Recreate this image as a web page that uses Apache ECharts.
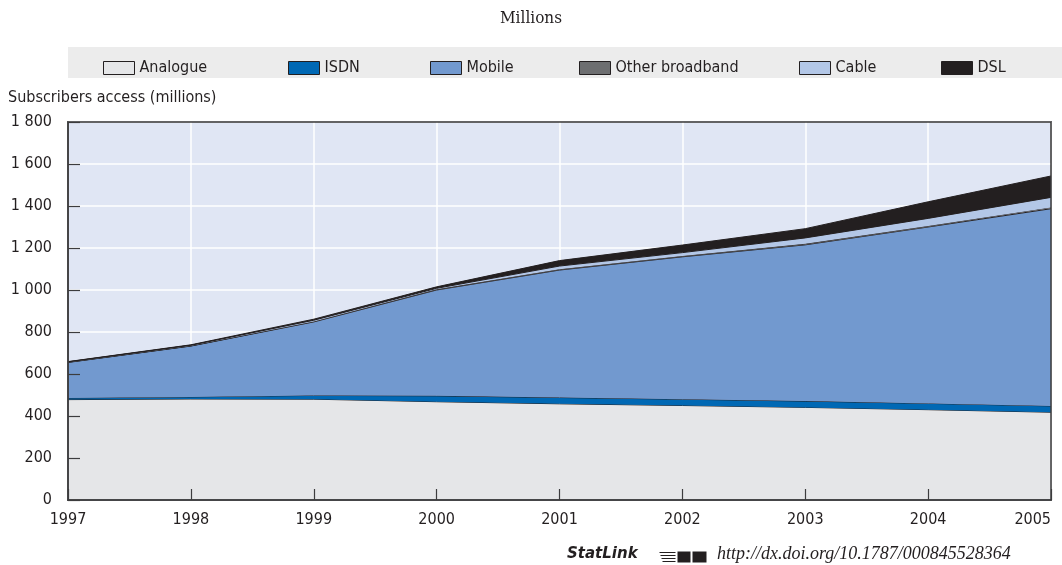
<!DOCTYPE html>
<html>
<head>
<meta charset="utf-8">
<script src="https://cdn.jsdelivr.net/npm/echarts@6/dist/echarts.min.js"></script>
<style>
    html, body { margin: 0; padding: 0; background: #ffffff; }
    #chart { width: 1062px; height: 565px; }
</style>
</head>
<body>
<div id="chart"></div>
<script>
// data (millions of subscribers)
var years = ['1997', '1998', '1999', '2000', '2001', '2002', '2003', '2004', '2005'];
var analogue = [478, 481, 480, 468, 458, 450, 441, 430, 418];
var isdn = [8, 10, 18, 28, 30, 30, 30, 30, 30];
var mobile = [169, 242, 350, 504, 607, 678, 744, 840, 939];
var otherBroadband = [1, 1, 2, 3, 4, 4, 5, 5, 6];
var cable = [2, 3, 6, 5, 15, 16, 28, 36, 48];
var dsl = [1, 2, 5, 7, 26, 36, 44, 79, 102];

var names = ['Analogue', 'ISDN', 'Mobile', 'Other broadband', 'Cable', 'DSL'];
var colors = ['#e5e6e8', '#0068b4', '#7299cf', '#6d6e70', '#b3c7e7', '#231f20'];
var legendLeft = [98, 283, 425, 574, 794, 936];

var FONT = '"Liberation Sans Narrow", "DejaVu Sans Condensed", "Roboto", sans-serif';
var INK = '#231f20';
var AXIS = '#3c3c3e';

var chart = echarts.init(document.getElementById('chart'));

function makeSeries(name, data, i) {
    return {
        name: name,
        type: 'line',
        stack: 'total',
        data: data,
        xAxisIndex: 0,
        yAxisIndex: 0,
        showSymbol: false,
        symbol: 'none',
        lineStyle: { color: INK, width: 1 },
        itemStyle: { color: colors[i] },
        areaStyle: { color: colors[i], opacity: 1 },
        emphasis: { disabled: true },
        z: 3 + i
    };
}

var legends = names.map(function (n, i) {
    return {
        data: [n],
        left: legendLeft[i],
        top: 55,
        icon: 'rect',
        itemWidth: 31,
        itemHeight: 13,
        itemStyle: { borderColor: INK, borderWidth: 1 },
        textStyle: { fontFamily: FONT, fontSize: 16, color: INK },
        selectedMode: false
    };
});

function yLabel(v) {
    return String(v).replace(/\B(?=(\d{3})+(?!\d))/g, ' ');
}

var option = {
    animation: false,
    backgroundColor: '#ffffff',
    title: {
        text: 'Millions',
        left: 'center',
        top: 5,
        textStyle: { fontFamily: '"DejaVu Serif Condensed", "Liberation Serif", serif', fontWeight: 'normal', fontSize: 17, color: INK }
    },
    legend: legends,
    grid: {
        left: 68,
        right: 11,
        top: 122,
        bottom: 65,
        outerBoundsMode: 'none',
        containLabel: false,
        show: true,
        backgroundColor: '#e0e6f4',
        borderColor: AXIS,
        borderWidth: 1.5,
        z: 0
    },
    graphic: [
        {
            type: 'rect',
            z: -10,
            shape: { x: 68, y: 47, width: 994, height: 31 },
            style: { fill: '#ececec' }
        },
        {
            type: 'text',
            left: 8,
            top: 90,
            style: { text: 'Subscribers access (millions)', font: '16px ' + FONT, fill: INK }
        },
        {
            type: 'rect',
            z: 30,
            shape: { x: 68, y: 122, width: 983, height: 378 },
            style: { fill: 'none', stroke: AXIS, lineWidth: 1.5 }
        },
        {
            type: 'text',
            left: 567,
            top: 547,
            style: { text: 'StatLink', font: 'italic bold 15px "DejaVu Sans", sans-serif', fill: INK }
        },
        {
            type: 'group',
            left: 657,
            top: 550,
            children: [
                { type: 'line', shape: { x1: 0, y1: 1, x2: 16, y2: 1 }, style: { stroke: INK, lineWidth: 1 } },
                { type: 'line', shape: { x1: 1, y1: 4, x2: 16, y2: 4 }, style: { stroke: INK, lineWidth: 1 } },
                { type: 'line', shape: { x1: 2, y1: 7, x2: 16, y2: 7 }, style: { stroke: INK, lineWidth: 1 } },
                { type: 'line', shape: { x1: 3, y1: 10, x2: 16, y2: 10 }, style: { stroke: INK, lineWidth: 1 } },
                { type: 'rect', shape: { x: 18, y: 0, width: 13, height: 11 }, style: { fill: INK } },
                { type: 'rect', shape: { x: 33, y: 0, width: 14, height: 11 }, style: { fill: INK } }
            ]
        },
        {
            type: 'text',
            left: 717,
            top: 545,
            style: { text: 'http://dx.doi.org/10.1787/000845528364', font: 'italic 18px "Liberation Serif", "DejaVu Serif", serif', fill: INK }
        }
    ],
    xAxis: [
        {
            // grid lines only, kept behind the areas
            type: 'category',
            data: years,
            boundaryGap: false,
            position: 'bottom',
            axisLine: { show: false },
            axisTick: { show: false },
            axisLabel: { show: false },
            splitLine: { show: true, lineStyle: { color: '#ffffff', width: 1.5 } },
            z: 1
        },
        {
            type: 'category',
            data: years,
            boundaryGap: false,
            position: 'bottom',
            axisLine: { lineStyle: { color: AXIS, width: 1.5 } },
            axisTick: { show: true, inside: true, length: 11, lineStyle: { color: AXIS, width: 1.2 } },
            axisLabel: { fontFamily: FONT, fontSize: 16, color: INK, margin: 12, alignMaxLabel: 'right' },
            splitLine: { show: false },
            z: 20
        }
    ],
    yAxis: [
        {
            type: 'value',
            min: 0,
            max: 1800,
            interval: 200,
            axisLine: { show: false },
            axisTick: { show: false },
            axisLabel: { show: false },
            splitLine: { show: true, lineStyle: { color: '#ffffff', width: 1.5 } },
            z: 1
        },
        {
            type: 'value',
            min: 0,
            max: 1800,
            interval: 200,
            position: 'left',
            axisLine: { show: true, lineStyle: { color: AXIS, width: 1.5 } },
            axisTick: { show: true, inside: true, length: 12, lineStyle: { color: AXIS, width: 1.2 } },
            axisLabel: { fontFamily: FONT, fontSize: 16, color: INK, margin: 16, formatter: yLabel },
            splitLine: { show: false },
            z: 20
        }
    ],
    series: [
        makeSeries('Analogue', analogue, 0),
        makeSeries('ISDN', isdn, 1),
        makeSeries('Mobile', mobile, 2),
        makeSeries('Other broadband', otherBroadband, 3),
        makeSeries('Cable', cable, 4),
        makeSeries('DSL', dsl, 5)
    ]
};

chart.setOption(option);
</script>
</body>
</html>
